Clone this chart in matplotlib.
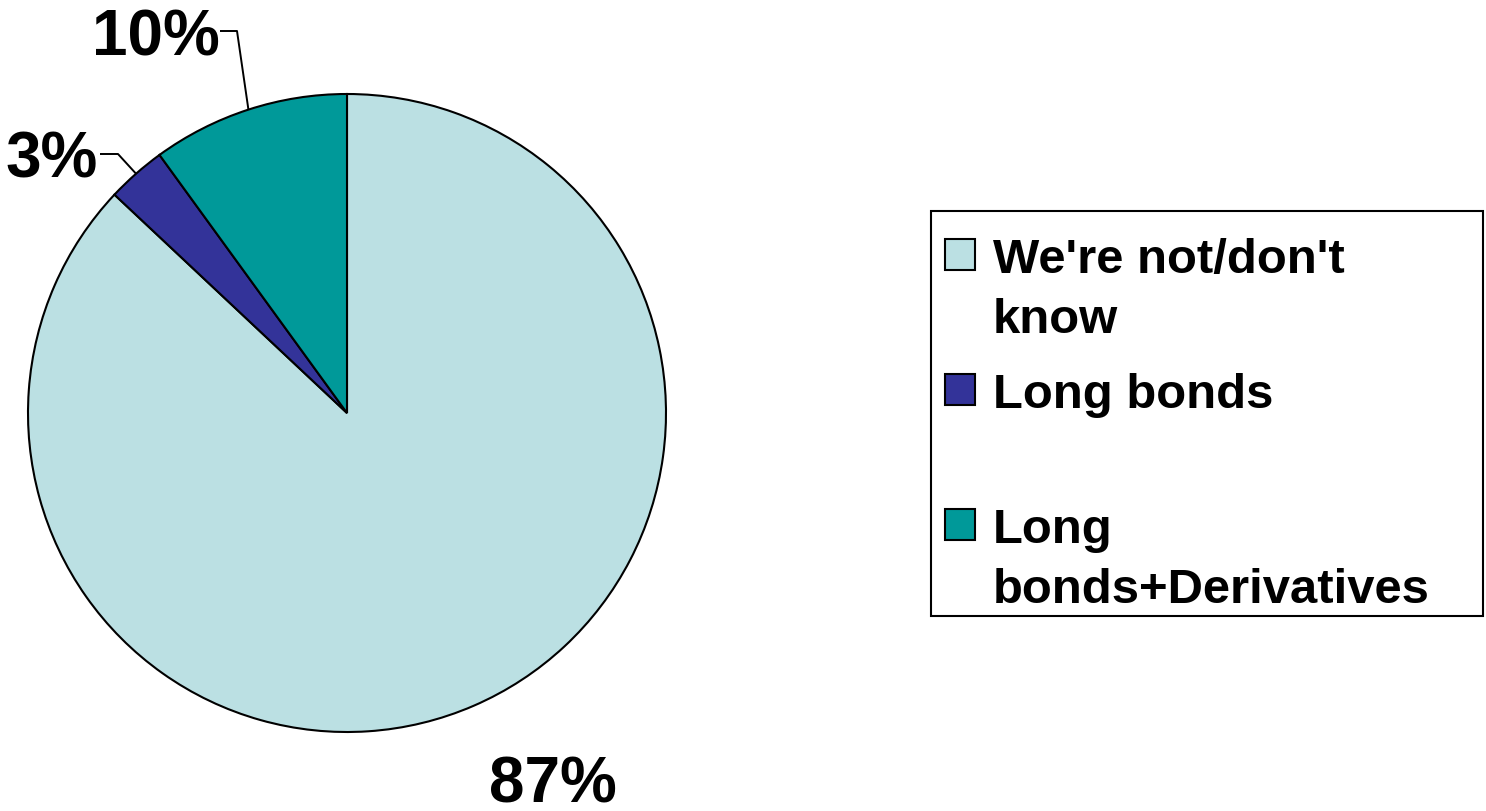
import numpy as np
import matplotlib.pyplot as plt
from matplotlib.patches import Rectangle

# data
categories = ["We're not/don't\nknow", "Long bonds", "Long\nbonds+Derivatives"]
shares = [87, 3, 10]
pct_labels = ['87%', '3%', '10%']
colors = ['#BBE0E3', '#333399', '#009999']

W, H = 1486, 812
plt.rcParams['font.family'] = ['Liberation Sans', 'DejaVu Sans']


def py(y):
    # pixel row (from top) -> data y (from bottom)
    return H - y


fig = plt.figure(figsize=(W / 100, H / 100), dpi=100)
ax = fig.add_axes([0, 0, 1, 1])

cx, cy, r = 347, py(414), 319
wedges, _ = ax.pie(shares, colors=colors, startangle=90, counterclock=False,
                   center=(cx, cy), radius=r,
                   wedgeprops=dict(edgecolor='black', linewidth=1.5))
ax.set_xlim(0, W)
ax.set_ylim(0, H)
ax.set_aspect('equal')
ax.axis('off')

# percentage labels: text centre x, baseline y, leader elbow / end (pixels)
label_layout = [
    dict(x=553, y=803, leader=None),
    dict(x=52, y=177, leader=[(118, 155), (100, 155)]),
    dict(x=156, y=55, leader=[(237, 32), (220, 32)]),
]
for w, txt, lay in zip(wedges, pct_labels, label_layout):
    ax.text(lay['x'], py(lay['y']), txt, ha='center', va='baseline',
            fontsize=46, fontweight='bold')
    if lay['leader']:
        mid = np.deg2rad((w.theta1 + w.theta2) / 2)
        x0, y0 = cx + r * np.cos(mid), cy + r * np.sin(mid)
        xs = [x0] + [p[0] for p in lay['leader']]
        ys = [y0] + [py(p[1]) for p in lay['leader']]
        ax.plot(xs, ys, color='black', lw=1.4, solid_capstyle='butt')

# legend drawn by hand (Excel style)
ax.add_patch(Rectangle((931, py(617)), 552, 405, fill=False,
                       edgecolor='black', lw=1.5))
for i, (cat, col) in enumerate(zip(categories, colors)):
    hc = 255 + i * 135
    ax.add_patch(Rectangle((945, py(hc + 15.5)), 30, 31, facecolor=col,
                           edgecolor='black', lw=1.5))
    for j, line in enumerate(cat.split('\n')):
        ax.text(993, py(hc + 18 + j * 60), line, ha='left', va='baseline',
                fontsize=35.3, fontweight='bold')

fig.savefig('out.png', dpi=100)
